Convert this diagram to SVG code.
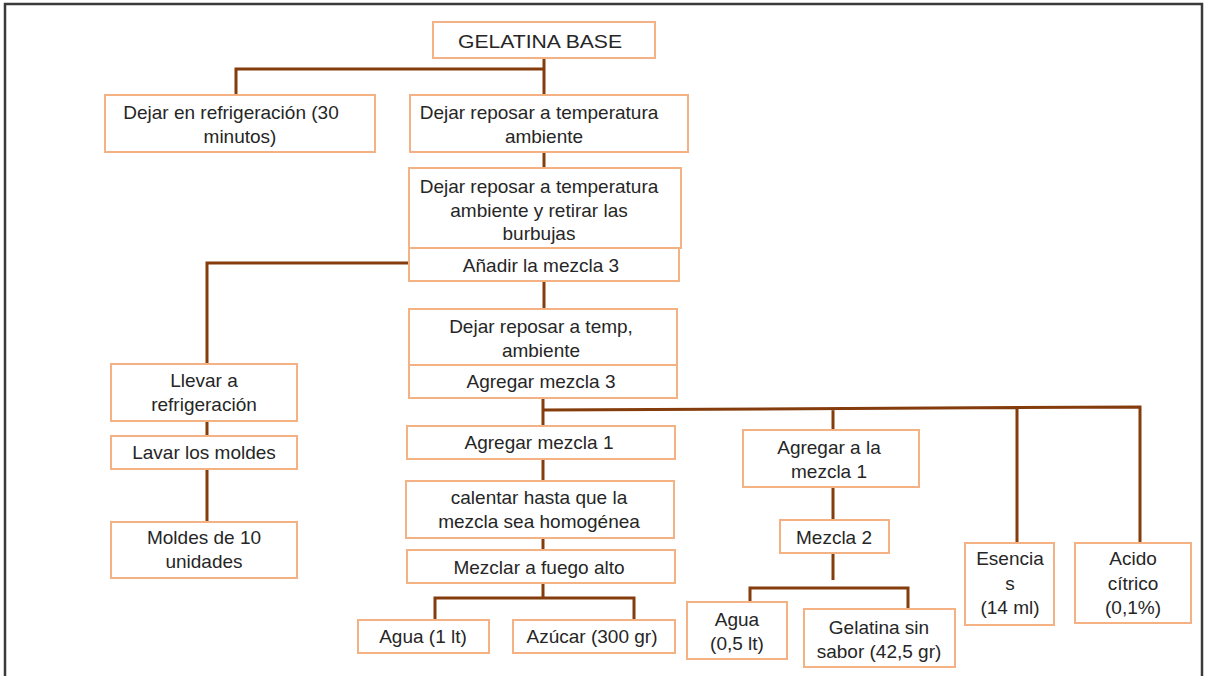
<svg xmlns="http://www.w3.org/2000/svg" width="1205" height="676" viewBox="0 0 1205 676">
<style>
.b{fill:#fff;stroke:#F4B183;stroke-width:2}
.t{font-family:"Liberation Sans",Arial,sans-serif;font-size:19px;fill:#262626;text-anchor:middle}
.c{fill:none;stroke:#843C0C;stroke-width:3}
</style>
<rect x="0" y="0" width="1205" height="676" fill="#fff"/>
<rect x="5" y="4" width="1197" height="700" fill="none" stroke="#3a3a3a" stroke-width="2.5"/>
<g id="connectors">
<path class="c" d="M544 58V95M236 95V69H544"/>
<path class="c" d="M544 152V168"/>
<path class="c" d="M409 263H207V364"/>
<path class="c" d="M544 281V309"/>
<path class="c" d="M543 398V426M543 410L1140 407V543M833 409V430M1017 408V543"/>
<path class="c" d="M543 459V481M543 538V550M543 583V598M435 621V598H634V621"/>
<path class="c" d="M833 487V520M833 553V580M750 602V588H908V609"/>
<path class="c" d="M207 422V436M207 469V521"/>
</g>
<g id="n1"><rect class="b" x="433" y="22" width="222" height="36"/><text class="t" x="540" y="48" font-size="20" textLength="164" lengthAdjust="spacingAndGlyphs">GELATINA BASE</text></g>
<g id="n2"><rect class="b" x="105" y="95" width="270" height="57"/><text class="t" x="231" y="119">Dejar en refrigeración (30</text><text class="t" x="240" y="143">minutos)</text></g>
<g id="n3"><rect class="b" x="410" y="95" width="278" height="57"/><text class="t" x="539" y="119">Dejar reposar a temperatura</text><text class="t" x="544" y="143">ambiente</text></g>
<g id="n4"><rect class="b" x="409" y="168" width="272" height="80"/><text class="t" x="539" y="193">Dejar reposar a temperatura</text><text class="t" x="539" y="217">ambiente y retirar las</text><text class="t" x="539" y="240">burbujas</text></g>
<g id="n5"><rect class="b" x="409" y="248" width="270" height="33"/><text class="t" x="541" y="272">Añadir la mezcla 3</text></g>
<g id="n6"><rect class="b" x="409" y="309" width="268" height="56"/><text class="t" x="541" y="333">Dejar reposar a temp,</text><text class="t" x="541" y="357">ambiente</text></g>
<g id="n7"><rect class="b" x="409" y="365" width="268" height="33"/><text class="t" x="541" y="388">Agregar mezcla 3</text></g>
<g id="n8"><rect class="b" x="407" y="426" width="268" height="33"/><text class="t" x="539" y="449">Agregar mezcla 1</text></g>
<g id="n9"><rect class="b" x="406" y="481" width="268" height="57"/><text class="t" x="539" y="504">calentar hasta que la</text><text class="t" x="539" y="528">mezcla sea homogénea</text></g>
<g id="n10"><rect class="b" x="407" y="550" width="268" height="33"/><text class="t" x="539" y="574">Mezclar a fuego alto</text></g>
<g id="n11"><rect class="b" x="358" y="620" width="131" height="33"/><text class="t" x="423" y="643">Agua (1 lt)</text></g>
<g id="n12"><rect class="b" x="513" y="620" width="162" height="33"/><text class="t" x="592" y="643">Azúcar (300 gr)</text></g>
<g id="n13"><rect class="b" x="743" y="430" width="176" height="57"/><text class="t" x="829" y="454">Agregar a la</text><text class="t" x="829" y="478">mezcla 1</text></g>
<g id="n14"><rect class="b" x="780" y="520" width="109" height="33"/><text class="t" x="834" y="544">Mezcla 2</text></g>
<g id="n15"><rect class="b" x="687" y="602" width="100" height="57"/><text class="t" x="737" y="626">Agua</text><text class="t" x="737" y="650">(0,5 lt)</text></g>
<g id="n16"><rect class="b" x="804" y="609" width="151" height="58"/><text class="t" x="879" y="634">Gelatina sin</text><text class="t" x="879" y="658">sabor (42,5 gr)</text></g>
<g id="n17"><rect class="b" x="965" y="543" width="89" height="82"/><text class="t" x="1010" y="565">Esencia</text><text class="t" x="1010" y="590">s</text><text class="t" x="1010" y="614">(14 ml)</text></g>
<g id="n18"><rect class="b" x="1075" y="543" width="116" height="80"/><text class="t" x="1133" y="565">Acido</text><text class="t" x="1133" y="590">cítrico</text><text class="t" x="1133" y="614">(0,1%)</text></g>
<g id="n19"><rect class="b" x="111" y="364" width="186" height="57"/><text class="t" x="204" y="387">Llevar a</text><text class="t" x="204" y="411">refrigeración</text></g>
<g id="n20"><rect class="b" x="111" y="436" width="186" height="33"/><text class="t" x="204" y="459">Lavar los moldes</text></g>
<g id="n21"><rect class="b" x="111" y="522" width="186" height="56"/><text class="t" x="204" y="544">Moldes de 10</text><text class="t" x="204" y="568">unidades</text></g>
</svg>
